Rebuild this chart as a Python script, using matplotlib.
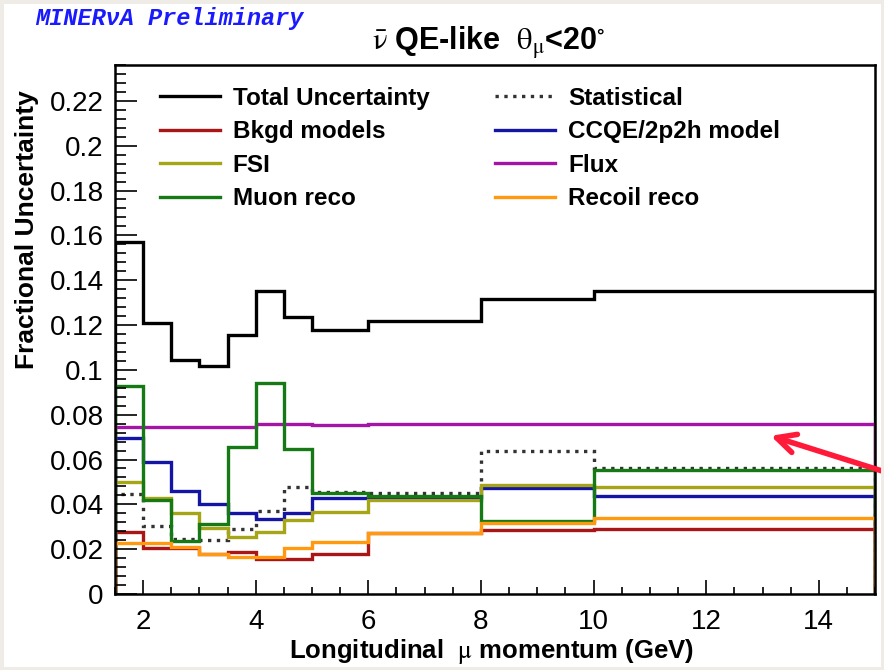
import matplotlib
matplotlib.use('Agg')
import matplotlib.pyplot as plt
from matplotlib.patches import Rectangle
from matplotlib.lines import Line2D
from matplotlib.ticker import MultipleLocator

plt.rcParams['font.family'] = ['Liberation Sans', 'DejaVu Sans']
plt.rcParams['mathtext.fontset'] = 'stix'

# bin edges in longitudinal muon momentum (GeV)
edges = [1.5, 2, 2.5, 3, 3.5, 4, 4.5, 5, 6, 8, 10, 15]

total = [0.157, 0.121, 0.1045, 0.1015, 0.1156, 0.1354, 0.1238, 0.1176, 0.1216, 0.1315, 0.135]
statistical = [0.0446, 0.0304, 0.0244, 0.0241, 0.029, 0.037, 0.0479, 0.0457, 0.045, 0.064, 0.0561]
bkgd = [0.0275, 0.0207, 0.0207, 0.0179, 0.0189, 0.0155, 0.0155, 0.0179, 0.0272, 0.0286, 0.029]
ccqe = [0.0698, 0.0588, 0.046, 0.040, 0.036, 0.0335, 0.036, 0.0427, 0.0434, 0.0475, 0.0438]
fsi = [0.0501, 0.043, 0.036, 0.0296, 0.0256, 0.0278, 0.033, 0.0368, 0.0418, 0.0487, 0.0476]
flux = [0.0745, 0.0745, 0.0745, 0.0745, 0.0745, 0.0758, 0.0758, 0.0755, 0.0758, 0.0758, 0.0758]
muon = [0.0929, 0.042, 0.0238, 0.0313, 0.0658, 0.094, 0.0646, 0.045, 0.0436, 0.0327, 0.0554]
recoil = [0.0226, 0.0229, 0.0211, 0.0179, 0.0167, 0.0167, 0.0204, 0.0231, 0.0274, 0.0318, 0.034]

# drawn in this order (same as ROOT legend, row by row)
series = [
    ("Total Uncertainty", total, 'black', '-'),
    ("Statistical", statistical, '#333333', ':'),
    ("Bkgd models", bkgd, '#aa1515', '-'),
    ("CCQE/2p2h model", ccqe, '#1515a5', '-'),
    ("FSI", fsi, '#a5a515', '-'),
    ("Flux", flux, '#a515a5', '-'),
    ("Muon reco", muon, '#157a15', '-'),
    ("Recoil reco", recoil, '#ff9a10', '-'),
]

fig = plt.figure(figsize=(8.84, 6.7), dpi=100)
ax = fig.add_axes([0.130, 0.1134, 0.860, 0.7896])

handles = {}
for name, vals, col, ls in series:
    h = ax.stairs(vals, edges, baseline=0, color=col, linestyle=ls, lw=2.4, label=name)
    handles[name] = h

ax.set_xlim(1.5, 15)
ax.set_ylim(0, 0.236)

ax.xaxis.set_major_locator(MultipleLocator(2))
ax.xaxis.set_minor_locator(MultipleLocator(0.5))
ax.yaxis.set_major_locator(MultipleLocator(0.02))
ax.yaxis.set_minor_locator(MultipleLocator(0.004))
ax.tick_params(axis='both', which='both', direction='in', labelsize=20, width=1.2)
ax.tick_params(axis='y', which='major', length=16, pad=8)
ax.tick_params(axis='y', which='minor', length=8)
ax.tick_params(axis='x', which='major', length=10, pad=11)
ax.tick_params(axis='x', which='minor', length=5)
ax.set_yticks([0, 0.02, 0.04, 0.06, 0.08, 0.1, 0.12, 0.14, 0.16, 0.18, 0.2, 0.22])
ax.set_yticklabels(['0', '0.02', '0.04', '0.06', '0.08', '0.1', '0.12', '0.14',
                    '0.16', '0.18', '0.2', '0.22'])
for s in ax.spines.values():
    s.set_linewidth(1.8)

fig.text(491 / 884, 1 - 651 / 670, r'Longitudinal  $\mathrm{\mu}$ momentum (GeV)',
         fontsize=18.5, fontweight='bold', ha='center', va='center')
# ROOT puts the y title at the top end of the axis
fig.text(27 / 884, 1 - 230 / 670, 'Fractional Uncertainty', fontsize=19,
         fontweight='bold', rotation=90, ha='center', va='center')

# legend: matplotlib fills columns first
order = ["Total Uncertainty", "Bkgd models", "FSI", "Muon reco",
         "Statistical", "CCQE/2p2h model", "Flux", "Recoil reco"]
leg_handles = []
for name in order:
    h = handles[name]
    leg_handles.append(Line2D([], [], color=h.get_edgecolor(), linestyle=h.get_linestyle(), lw=2.4))
ax.legend(leg_handles, order, ncol=2, loc='upper left', bbox_to_anchor=(0.059, 0.959),
          frameon=False, prop={'weight': 'bold', 'size': 17.5}, handlelength=2.47,
          handletextpad=0.53, columnspacing=2.7, labelspacing=0.43,
          borderpad=0, borderaxespad=0)

fig.text(0.553, 0.936, r'$\mathrm{\bar{\nu}}$ QE-like  $\mathrm{\theta_{\mu}}$<20$^{\circ}$',
         fontsize=22, fontweight='bold', ha='center', va='center')
fig.text(0.04, 0.972, 'MINERνA Preliminary', fontsize=17, color='#1a1aff',
         family=['Liberation Mono', 'DejaVu Sans Mono'], fontweight='bold', style='italic',
         ha='left', va='center')

# red arrow pointing at the flux line
ax.annotate('', xy=(768, 670 - 435), xytext=(898, 670 - 476), xycoords='figure pixels',
            textcoords='figure pixels', annotation_clip=False,
            arrowprops=dict(arrowstyle='->', color='#ff1a3a', lw=4, mutation_scale=34))

fig.patches.append(Rectangle((0, 0), 1, 1, transform=fig.transFigure, fill=False,
                             edgecolor='#efece8', lw=5))

fig.savefig('out.png', dpi=100)
